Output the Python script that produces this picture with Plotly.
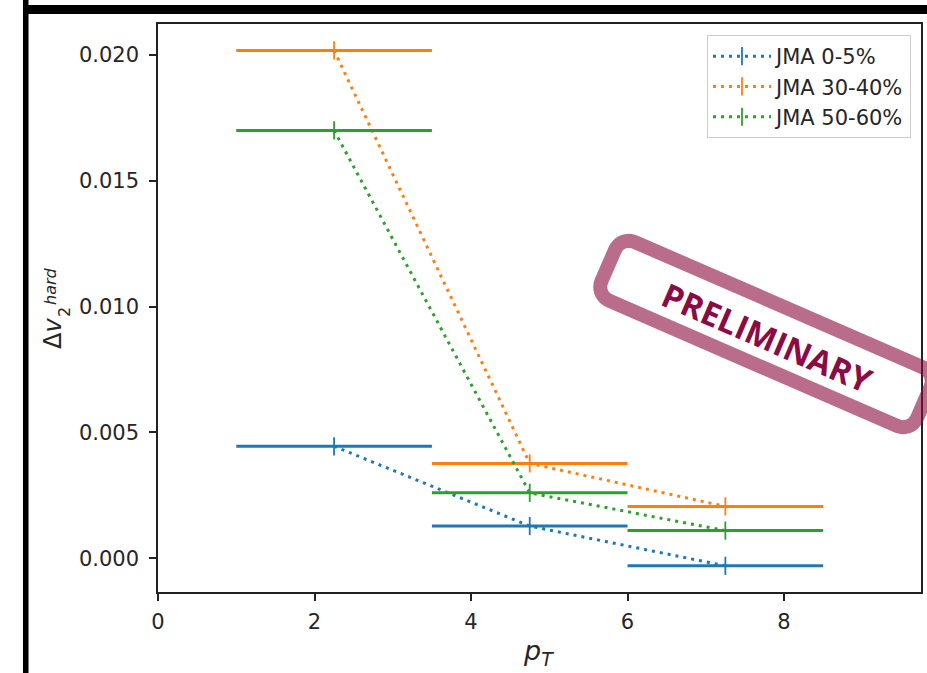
import numpy as np
import plotly.graph_objects as go

W, H = 927, 673
ML, MR, MT, MB = 158, 6, 24, 81

pt_centers = [2.25, 4.75, 7.25]
pt_halfwidth = [1.25, 1.25, 1.25]
series_names = ["JMA 0-5%", "JMA 30-40%", "JMA 50-60%"]
v2_jma_0_5 = [0.00445, 0.00128, -0.00030]
v2_jma_30_40 = [0.02018, 0.00377, 0.00206]
v2_jma_50_60 = [0.01700, 0.00260, 0.00110]
colors = ["#1f77b4", "#ff7f0e", "#2ca02c"]
x_ticks = [0, 2, 4, 6, 8]
y_ticks = [0.0, 0.005, 0.010, 0.015, 0.020]

pw = W - ML - MR
ph = H - MT - MB


def px(X):
    return (X - ML) / pw


def py(Y):
    return 1 - (Y - MT) / ph


fig = go.Figure()
for name, vals, col in zip(series_names, [v2_jma_0_5, v2_jma_30_40, v2_jma_50_60], colors):
    fig.add_trace(go.Scatter(
        x=pt_centers, y=vals, name=name, mode="lines+markers",
        line=dict(color=col, width=3, dash="3px,5px"),
        marker=dict(symbol="line-ns", size=13, line=dict(color=col, width=1.8), color=col),
        error_x=dict(type="data", array=pt_halfwidth, symmetric=True,
                     thickness=3, width=0, color=col),
    ))

axis_common = dict(
    showgrid=False, zeroline=False, showline=True, linecolor="#222", linewidth=1.5,
    mirror=True, ticks="outside", ticklen=7, tickwidth=1.5, tickcolor="#222",
    tickfont=dict(family="DejaVu Sans", size=21, color="#262626"),
)
fig.update_xaxes(range=[0, 9.75], tickvals=x_ticks, ticklabelstandoff=3, **axis_common)
fig.update_yaxes(range=[-0.00134, 0.02123], tickvals=y_ticks, tickformat=".3f",
                 ticklabelstandoff=6, **axis_common)

shapes = []
# black slide frame bars
shapes.append(dict(type="rect", xref="paper", yref="paper", x0=px(23), x1=px(930),
                   y0=py(14), y1=py(5), fillcolor="black", line=dict(width=0), layer="above"))
shapes.append(dict(type="rect", xref="paper", yref="paper", x0=px(23), x1=px(28.5),
                   y0=py(680), y1=py(-5), fillcolor="black", line=dict(width=0), layer="above"))

# PRELIMINARY stamp (rotated rounded rectangle)
cx, cy = 766, 334
ang = np.deg2rad(23.5)
L, Hh, r = 344, 64, 15
pts = []
corners = [(L / 2 - r, Hh / 2 - r, 0), (-L / 2 + r, Hh / 2 - r, 90),
           (-L / 2 + r, -Hh / 2 + r, 180), (L / 2 - r, -Hh / 2 + r, 270)]
for (ax_, ay_, a0) in corners:
    for t in np.linspace(a0, a0 + 90, 10):
        tr = np.deg2rad(t)
        pts.append((ax_ + r * np.cos(tr), ay_ + r * np.sin(tr)))
path = ""
for i, (u, v) in enumerate(pts):
    X = cx + u * np.cos(ang) - v * np.sin(ang)
    Y = cy + u * np.sin(ang) + v * np.cos(ang)
    path += ("M" if i == 0 else "L") + f"{px(X):.5f},{py(Y):.5f} "
path += "Z"
shapes.append(dict(type="path", xref="paper", yref="paper", path=path,
                   line=dict(color="rgba(140,12,60,0.6)", width=14), layer="above"))

common_ann = dict(xref="paper", yref="paper", showarrow=False, xanchor="center", yanchor="middle")
annotations = [
    dict(text="<b>PRELIMINARY</b>", x=px(767), y=py(337), textangle=23.5,
         font=dict(family="Open Sans", size=33, color="#8c0b45"), **common_ann),
    dict(text="Δ<i>v</i>", x=px(53), y=py(334), textangle=-90,
         font=dict(family="DejaVu Sans", size=24, color="#262626"), **common_ann),
    dict(text="2", x=px(64), y=py(312), textangle=-90,
         font=dict(family="DejaVu Sans", size=16, color="#262626"), **common_ann),
    dict(text="<i>hard</i>", x=px(51), y=py(286), textangle=-90,
         font=dict(family="DejaVu Sans", size=16, color="#262626"), **common_ann),
    dict(text="<i>p</i><sub><i>T</i></sub>", x=px(538), y=py(652),
         font=dict(family="DejaVu Sans", size=27, color="#262626"), **common_ann),
]

fig.update_layout(
    width=W, height=H, margin=dict(l=ML, r=MR, t=MT, b=MB, autoexpand=False),
    paper_bgcolor="white", plot_bgcolor="white",
    shapes=shapes, annotations=annotations,
    legend=dict(x=px(911), y=py(35), xanchor="right", yanchor="top",
                bgcolor="white", bordercolor="#cccccc", borderwidth=1,
                font=dict(family="DejaVu Sans", size=21, color="#262626"),
                itemwidth=58),
    showlegend=True,
)

fig.write_html("out.html", config={"displayModeBar": False},
               post_script="document.body.style.margin='0px';")
